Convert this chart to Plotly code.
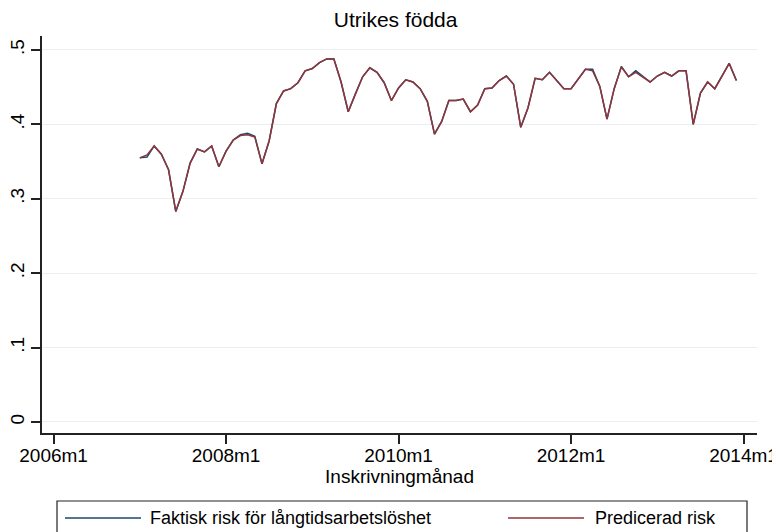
import plotly.graph_objects as go

# Months since 1960m1 (Stata %tm): 2007m1 .. 2013m12
start_month = 564
faktisk = [
    0.355, 0.356, 0.371, 0.360, 0.339, 0.283, 0.310, 0.348, 0.367, 0.363, 0.371, 0.343,
    0.364, 0.379, 0.386, 0.388, 0.384, 0.347, 0.378, 0.428, 0.445, 0.448, 0.456, 0.472,
    0.475, 0.483, 0.488, 0.488, 0.457, 0.417, 0.441, 0.464, 0.476, 0.470, 0.456, 0.432,
    0.449, 0.460, 0.457, 0.448, 0.431, 0.387, 0.404, 0.432, 0.432, 0.434, 0.417, 0.426,
    0.448, 0.449, 0.459, 0.465, 0.454, 0.396, 0.422, 0.462, 0.460, 0.470, 0.459, 0.448,
    0.448, 0.461, 0.474, 0.474, 0.451, 0.407, 0.448, 0.478, 0.464, 0.472, 0.464, 0.457,
    0.465, 0.470, 0.465, 0.472, 0.472, 0.400, 0.442, 0.457, 0.448, 0.465, 0.482, 0.459,
]
predicerad = [
    0.355, 0.359, 0.371, 0.360, 0.339, 0.283, 0.310, 0.348, 0.367, 0.363, 0.371, 0.343,
    0.364, 0.379, 0.385, 0.386, 0.383, 0.347, 0.378, 0.428, 0.445, 0.448, 0.456, 0.472,
    0.475, 0.483, 0.488, 0.488, 0.457, 0.417, 0.441, 0.464, 0.476, 0.470, 0.456, 0.432,
    0.449, 0.460, 0.457, 0.448, 0.431, 0.387, 0.404, 0.432, 0.432, 0.434, 0.417, 0.426,
    0.448, 0.449, 0.459, 0.465, 0.454, 0.396, 0.422, 0.462, 0.460, 0.470, 0.459, 0.448,
    0.448, 0.461, 0.474, 0.472, 0.451, 0.407, 0.448, 0.477, 0.464, 0.470, 0.464, 0.457,
    0.465, 0.470, 0.465, 0.472, 0.472, 0.400, 0.442, 0.457, 0.448, 0.465, 0.482, 0.459,
]
months = list(range(start_month, start_month + len(faktisk)))

x_ticks = [552, 576, 600, 624, 648]
x_labels = ["2006m1", "2008m1", "2010m1", "2012m1", "2014m1"]
y_ticks = [0, 0.1, 0.2, 0.3, 0.4, 0.5]
y_labels = ["0", ".1", ".2", ".3", ".4", ".5"]

series_names = ["Faktisk risk för långtidsarbetslöshet", "Predicerad risk"]
colors = ["#1a476f", "#90353b"]

font = "Liberation Sans, Arial, sans-serif"

# the page body has an 8px margin, so the figure is made 8px smaller
OFF = 8
W, H = 780 - OFF, 532 - OFF
L, R, T, B = 42 - OFF, 23, 36 - OFF, 99
PW, PH = W - L - R, H - T - B


# screen pixel -> paper coordinates (for the hand-drawn Stata style legend)
def px(x):
    return (x - OFF - L) / PW


def py(y):
    return (H - B - (y - OFF)) / PH


fig = go.Figure()
for vals, name, col in zip([faktisk, predicerad], series_names, colors):
    fig.add_trace(go.Scatter(x=months, y=vals, mode="lines", name=name,
                             line=dict(color=col, width=1.5), showlegend=False))

# legend box, sample lines and labels
shapes = [dict(type="rect", xref="paper", yref="paper",
               x0=px(57), x1=px(747), y0=py(545), y1=py(501),
               line=dict(color="#222", width=1.2), fillcolor="white", layer="below")]
annotations = []
for (lx, tx), name, col in zip([(65, 148), (508, 593)], series_names, colors):
    shapes.append(dict(type="line", xref="paper", yref="paper",
                       x0=px(lx), x1=px(lx + 76), y0=py(518), y1=py(518),
                       line=dict(color=col, width=1.5)))
    annotations.append(dict(text=name, xref="paper", yref="paper",
                            x=px(tx), y=py(518), xanchor="left", yanchor="middle",
                            showarrow=False, font=dict(size=18)))

fig.update_layout(
    width=W, height=H,
    margin=dict(l=L, r=R, t=T, b=B),
    paper_bgcolor="white", plot_bgcolor="white",
    font=dict(family=font, size=18, color="black"),
    title=dict(text="Utrikes födda", x=px(401), xanchor="center",
               y=1 - (20 - OFF) / H, yanchor="middle", font=dict(size=21)),
    showlegend=False,
    shapes=shapes,
    annotations=annotations,
)
fig.update_xaxes(range=[550.39, 649.87], tickvals=x_ticks, ticktext=x_labels,
                 showgrid=False, zeroline=False, showline=True, linecolor="#222",
                 linewidth=1.5, ticks="outside", ticklen=9, tickwidth=1.5,
                 tickcolor="#222", tickfont=dict(size=19), automargin=False,
                 ticklabeloverflow="allow", ticklabelstandoff=-5,
                 title=dict(text="Inskrivningmånad", standoff=0, font=dict(size=19)))
fig.update_yaxes(range=[-0.0148, 0.5188], tickvals=y_ticks, ticktext=y_labels,
                 tickangle=-90, showgrid=True, gridcolor="#eaf0f2", gridwidth=1,
                 zeroline=False, showline=True, linecolor="#222", linewidth=1.5,
                 ticks="outside", ticklen=9, tickwidth=1.5, tickcolor="#222",
                 tickfont=dict(size=19), automargin=False, ticklabeloverflow="allow")

fig.write_html("out.html")
